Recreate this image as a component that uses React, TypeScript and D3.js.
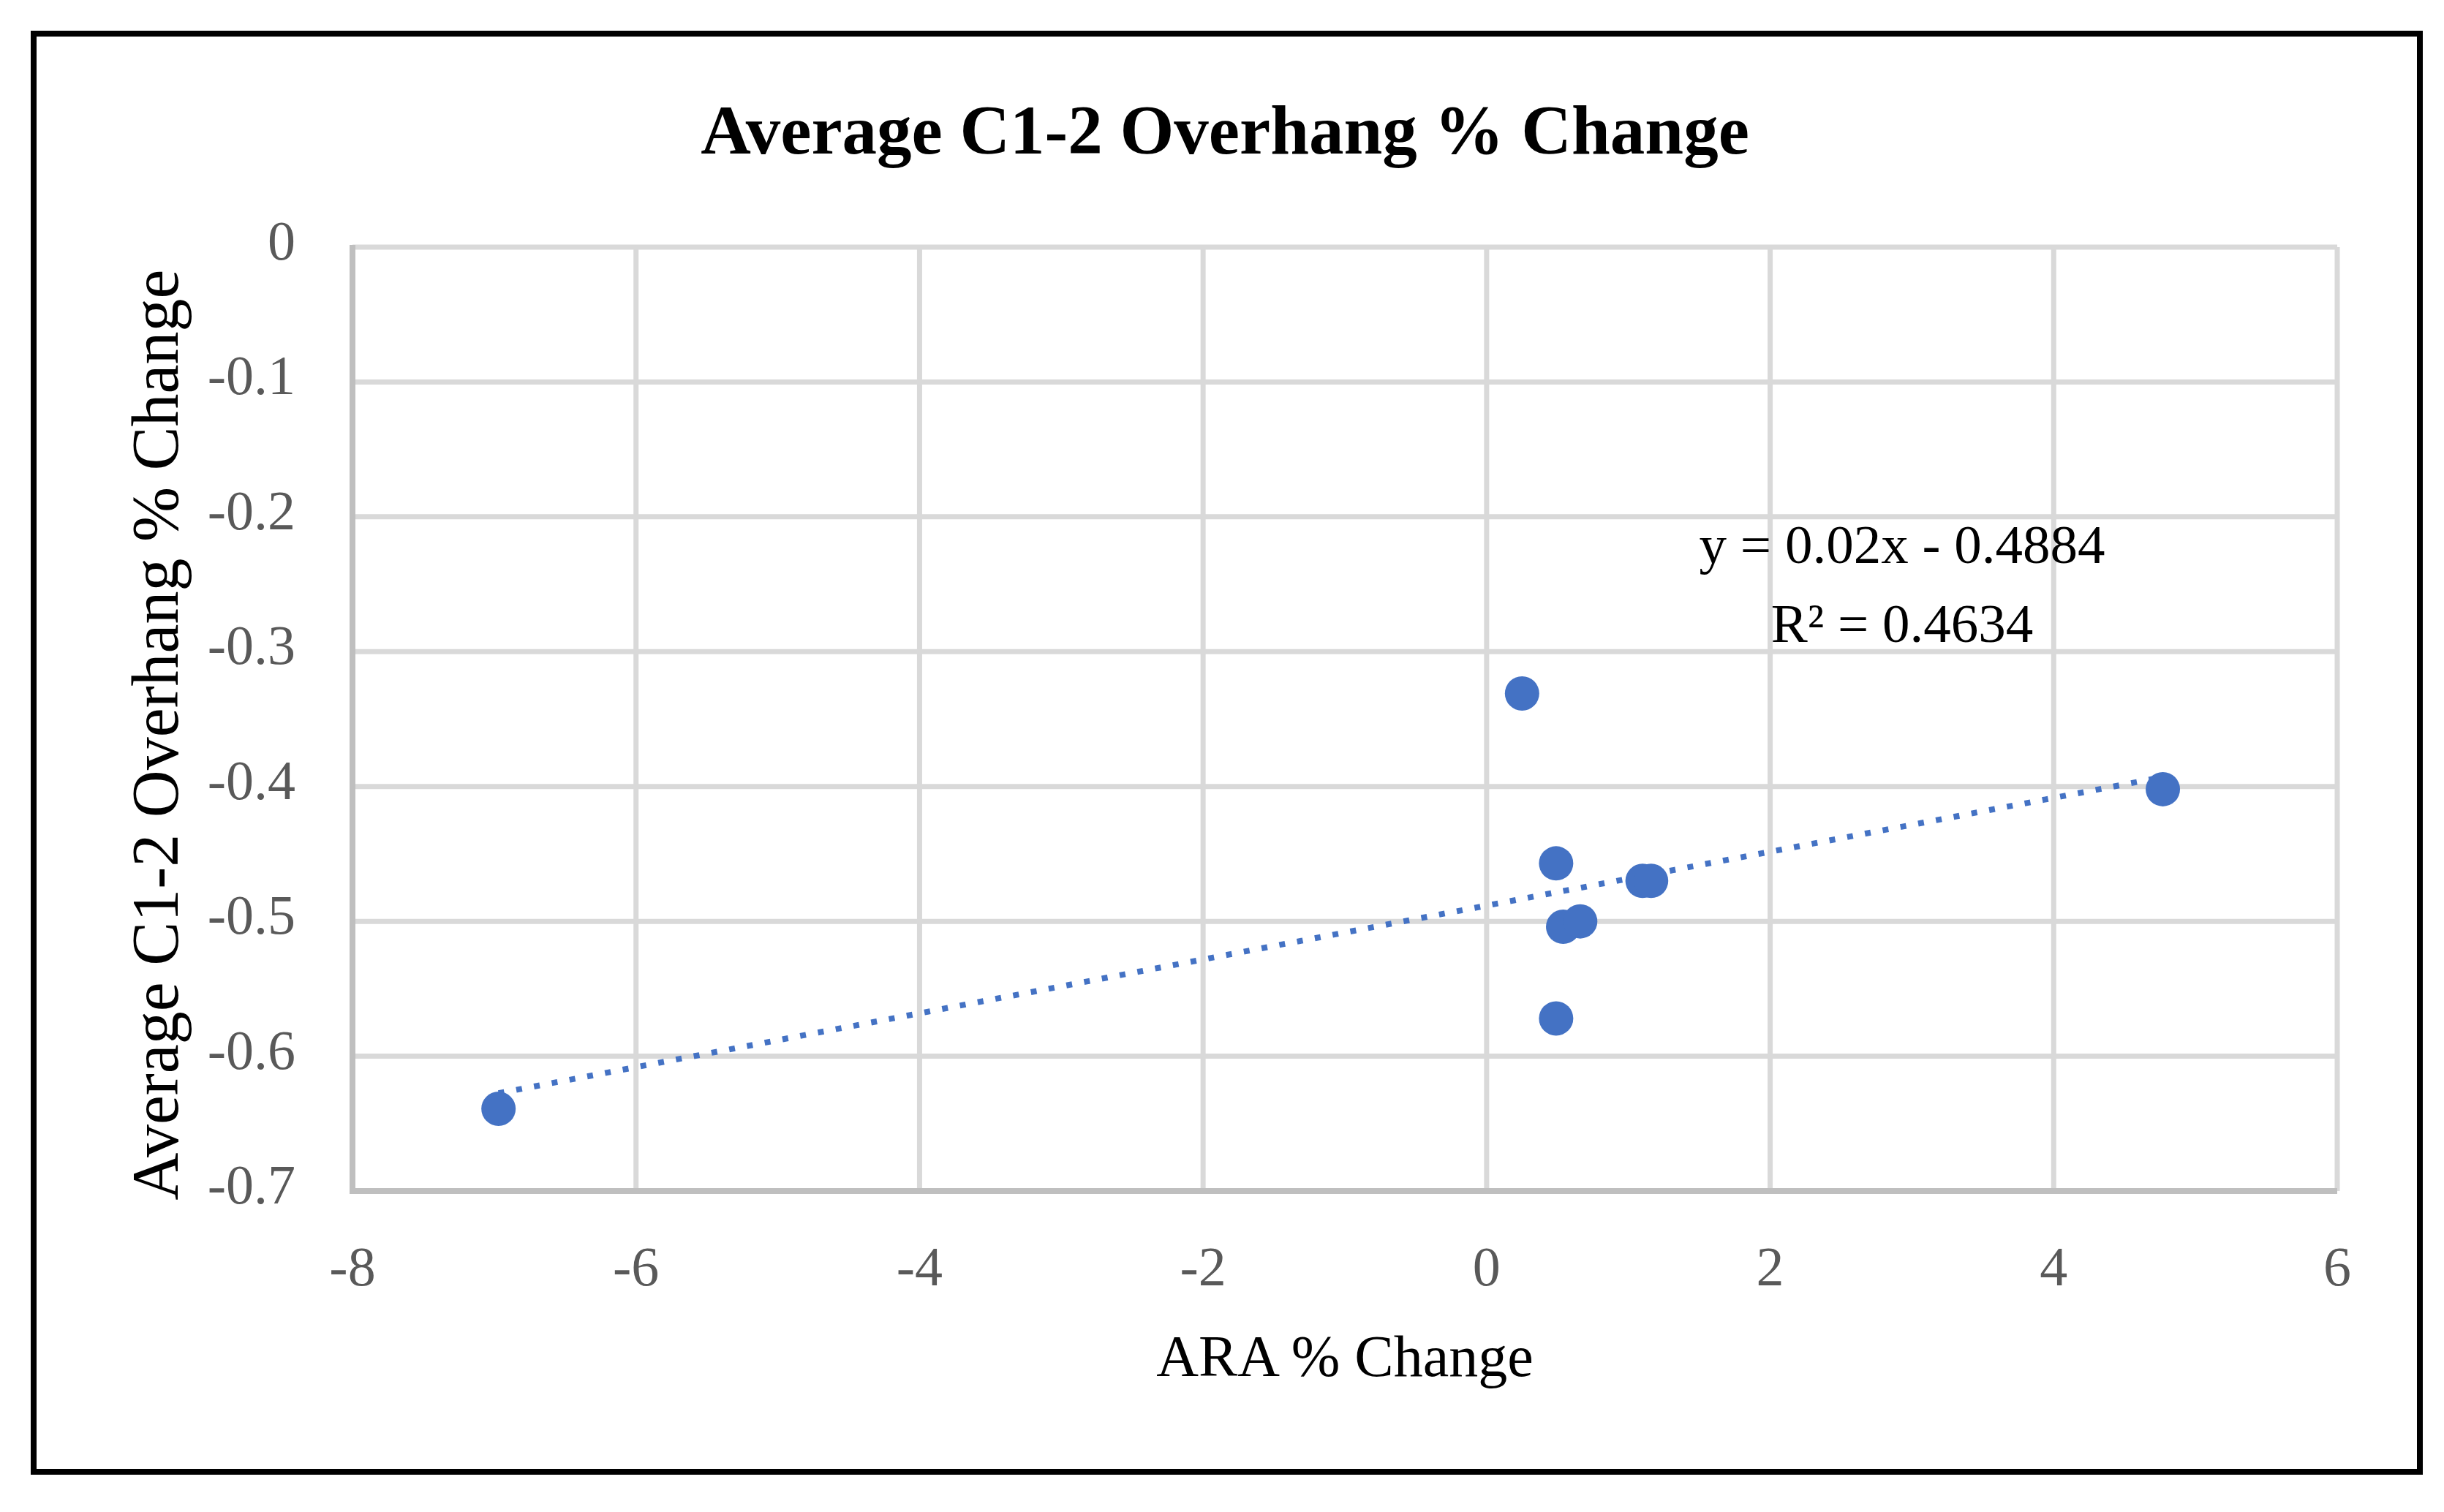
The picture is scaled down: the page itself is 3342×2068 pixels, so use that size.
import * as d3 from 'd3';

// ARA % change vs average C1-2 overhang % change
const araChange = [-6.97, 0.25, 4.77, 0.49, 1.1, 1.16, 0.54, 0.66, 0.49];
const overhangChange = [-0.639, -0.331, -0.402, -0.457, -0.47, -0.47, -0.504, -0.5, -0.572];

const xTicks = [-8, -6, -4, -2, 0, 2, 4, 6];
const yTicks = [0, -0.1, -0.2, -0.3, -0.4, -0.5, -0.6, -0.7];

const equationText = 'y = 0.02x - 0.4884';
const r2Text = 'R² = 0.4634';

const W = 3342;
const H = 2068;
const FONT = '"Liberation Serif", "Times New Roman", serif';
const BLUE = '#4472C4';

export default function App() {
  const x = d3.scaleLinear().domain([-8, 6]).range([482, 3196]);
  const y = d3.scaleLinear().domain([0, -0.7]).range([338, 1629]);

  const points = araChange.map((v, i) => ({ x: v, y: overhangChange[i] }));

  // least-squares trendline
  const mx = d3.mean(araChange)!;
  const my = d3.mean(overhangChange)!;
  const sxy = d3.sum(points, p => (p.x - mx) * (p.y - my));
  const sxx = d3.sum(points, p => (p.x - mx) ** 2);
  const slope = sxy / sxx;
  const intercept = my - slope * mx;
  const [x0, x1] = d3.extent(araChange) as [number, number];
  const trend = d3.line<number>()
    .x(d => x(d))
    .y(d => y(slope * d + intercept));

  const [left, right] = x.range();
  const [top, bottom] = y.range();

  return (
    <svg
      width={W}
      height={H}
      style={{ position: 'absolute', left: 0, top: 0, background: '#fff' }}
      fontFamily={FONT}
    >
      <rect x={0} y={0} width={W} height={H} fill="#fff" />
      <rect x={46} y={46} width={3263} height={1967} fill="#fff" stroke="#000" strokeWidth={8} />

      <text x={1675} y={210} textAnchor="middle" fontSize={95} fontWeight="bold" fill="#000">
        Average C1-2 Overhang % Change
      </text>

      {/* gridlines */}
      {xTicks.filter(t => t !== -8).map(t => (
        <line key={'gx' + t} x1={x(t)} x2={x(t)} y1={top} y2={bottom} stroke="#D9D9D9" strokeWidth={7} />
      ))}
      {yTicks.filter(t => t !== -0.7).map(t => (
        <line key={'gy' + t} x1={left} x2={right} y1={y(t)} y2={y(t)} stroke="#D9D9D9" strokeWidth={7} />
      ))}

      {/* axis lines */}
      <line x1={left} x2={left} y1={top - 3} y2={bottom + 4} stroke="#BFBFBF" strokeWidth={8} />
      <line x1={left} x2={right} y1={bottom} y2={bottom} stroke="#BFBFBF" strokeWidth={8} />

      {/* tick labels */}
      {yTicks.map(t => (
        <text key={'ty' + t} x={404} y={y(t) + 17} textAnchor="end" fontSize={76} fill="#595959">
          {t === 0 ? '0' : d3.format('.1f')(t).replace('−', '-')}
        </text>
      ))}
      {xTicks.map(t => (
        <text key={'tx' + t} x={x(t)} y={1758} textAnchor="middle" fontSize={76} fill="#595959">
          {String(t)}
        </text>
      ))}

      {/* axis titles */}
      <text x={1839} y={1882} textAnchor="middle" fontSize={80} fill="#000">
        ARA % Change
      </text>
      <text
        transform="translate(243, 1005) rotate(-90)"
        textAnchor="middle"
        fontSize={90}
        fill="#000"
      >
        Average C1-2 Overhang % Change
      </text>

      {/* trendline */}
      <path
        d={trend([x0, x1]) ?? ''}
        fill="none"
        stroke={BLUE}
        strokeWidth={8}
        strokeDasharray="8 16.7"
      />

      {/* points */}
      {points.map((p, i) => (
        <circle key={i} cx={x(p.x)} cy={y(p.y)} r={23.5} fill={BLUE} />
      ))}

      {/* trendline label */}
      <text x={2601} y={770} textAnchor="middle" fontSize={75} fill="#000">
        {equationText}
      </text>
      <text x={2601} y={878} textAnchor="middle" fontSize={75} fill="#000">
        {r2Text}
      </text>
    </svg>
  );
}
